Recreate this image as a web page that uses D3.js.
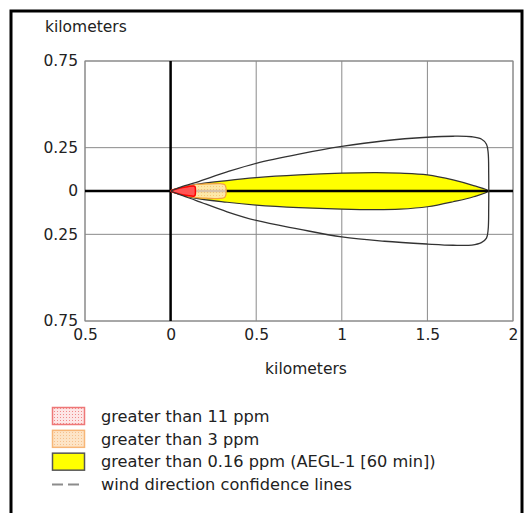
<!DOCTYPE html>
<html>
<head>
<meta charset="utf-8">
<script src="https://cdn.jsdelivr.net/npm/d3@7"></script>
<style>
  body { margin: 0; background: #fff; }
  text { font-family: "DejaVu Sans", Verdana, sans-serif; fill: #222; }
</style>
</head>
<body>
<div id="chart"></div>
<script>
// Tick values (km)
let xTicks = [-0.5, 0, 0.5, 1, 1.5, 2];
let yTicks = [0.75, 0.25, 0, -0.25, -0.75];

// Threat zones, [downwind km, crosswind km]
let zoneYellow = [
    [0, 0], [0.05, 0.015], [0.134, 0.035], [0.33, 0.06], [0.5, 0.077], [0.75, 0.093],
    [1.0, 0.103], [1.2, 0.106], [1.34, 0.103], [1.5, 0.093], [1.65, 0.064], [1.77, 0.031],
    [1.855, 0],
    [1.77, -0.033], [1.65, -0.062], [1.5, -0.091], [1.34, -0.105], [1.2, -0.108],
    [1.0, -0.105], [0.75, -0.096], [0.5, -0.081], [0.33, -0.065], [0.134, -0.04], [0.05, -0.017]
];
let zoneOrange = [
    [0, 0], [0.07, 0.022], [0.14, 0.036], [0.22, 0.041], [0.29, 0.042], [0.315, 0.038],
    [0.322, 0.025], [0.325, 0],
    [0.322, -0.025], [0.315, -0.038], [0.29, -0.043], [0.22, -0.042], [0.14, -0.037], [0.07, -0.023]
];
let zoneRed = [
    [0, 0], [0.05, 0.016], [0.1, 0.025], [0.135, 0.029], [0.143, 0.024], [0.145, 0],
    [0.143, -0.024], [0.135, -0.03], [0.1, -0.026], [0.05, -0.017]
];

// Wind direction confidence lines
let confidence = [
    [0, 0], [0.05, 0.02], [0.15, 0.05], [0.33, 0.11], [0.5, 0.16], [0.75, 0.213],
    [1.0, 0.257], [1.25, 0.29], [1.5, 0.31], [1.65, 0.316], [1.76, 0.313], [1.815, 0.3],
    [1.845, 0.27], [1.855, 0.22], [1.858, 0.1], [1.858, -0.1], [1.855, -0.22],
    [1.845, -0.272], [1.815, -0.298], [1.76, -0.312], [1.65, -0.313], [1.5, -0.306],
    [1.25, -0.29], [1.0, -0.265], [0.75, -0.22], [0.5, -0.17], [0.33, -0.12],
    [0.15, -0.055], [0.05, -0.02], [0, 0]
];

// Legend
let legendLabels = [
    'greater than 11 ppm',
    'greater than 3 ppm',
    'greater than 0.16 ppm (AEGL-1 [60 min])',
    'wind direction confidence lines'
];

let W = 525, H = 513;
let plot = { left: 85, right: 513, top: 61, bottom: 321 };

let x = d3.scaleLinear().domain([-0.5, 2]).range([plot.left, plot.right]);
let y = d3.scaleLinear().domain([-0.75, 0.75]).range([plot.bottom, plot.top]);

let svg = d3.select('#chart')
    .append('svg')
    .attr('width', W)
    .attr('height', H);

// Dotted fill patterns
let defs = svg.append('defs');
function dotPattern(id, bg, dot) {
    let p = defs.append('pattern')
        .attr('id', id)
        .attr('width', 3).attr('height', 3)
        .attr('patternUnits', 'userSpaceOnUse');
    p.append('rect').attr('width', 3).attr('height', 3).attr('fill', bg);
    p.append('rect').attr('width', 1).attr('height', 1).attr('fill', dot);
}
dotPattern('pat-red', '#fde6e6', '#f08a8a');
dotPattern('pat-orange', '#fde4c6', '#f6c08c');

svg.append('rect')
    .attr('width', W).attr('height', H)
    .attr('fill', '#fff');

// Outer frame
svg.append('rect')
    .attr('x', 11).attr('y', 11)
    .attr('width', 511).attr('height', 530)
    .attr('fill', 'none')
    .attr('stroke', '#000')
    .attr('stroke-width', 3);

// Grid
svg.append('g')
    .selectAll('line')
    .data(xTicks)
    .join('line')
    .attr('x1', d => x(d)).attr('x2', d => x(d))
    .attr('y1', plot.top).attr('y2', plot.bottom)
    .attr('stroke', '#8a8a8a').attr('stroke-width', 1);

svg.append('g')
    .selectAll('line')
    .data(yTicks)
    .join('line')
    .attr('x1', plot.left).attr('x2', plot.right)
    .attr('y1', d => y(d)).attr('y2', d => y(d))
    .attr('stroke', '#8a8a8a').attr('stroke-width', 1);

svg.append('rect')
    .attr('x', plot.left).attr('y', plot.top)
    .attr('width', plot.right - plot.left)
    .attr('height', plot.bottom - plot.top)
    .attr('fill', 'none')
    .attr('stroke', '#8a8a8a');

let zoneLine = d3.line()
    .x(d => x(d[0]))
    .y(d => y(d[1]))
    .curve(d3.curveCatmullRomClosed.alpha(0.5));

let openLine = d3.line()
    .x(d => x(d[0]))
    .y(d => y(d[1]))
    .curve(d3.curveCatmullRom.alpha(0.5));

// Yellow zone
svg.append('path')
    .datum(zoneYellow)
    .attr('d', zoneLine)
    .attr('fill', '#ffff00')
    .attr('stroke', '#333')
    .attr('stroke-width', 1.2);

// Zero axes
svg.append('line')
    .attr('x1', plot.left).attr('x2', plot.right)
    .attr('y1', y(0)).attr('y2', y(0))
    .attr('stroke', '#000').attr('stroke-width', 2.5);
svg.append('line')
    .attr('x1', x(0)).attr('x2', x(0))
    .attr('y1', plot.top).attr('y2', plot.bottom)
    .attr('stroke', '#000').attr('stroke-width', 2.5);

// Orange and red zones
svg.append('path')
    .datum(zoneOrange)
    .attr('d', zoneLine)
    .attr('fill', 'url(#pat-orange)')
    .attr('fill-opacity', 0.85)
    .attr('stroke', '#f4a040')
    .attr('stroke-width', 1.2);

svg.append('path')
    .datum(zoneRed)
    .attr('d', zoneLine)
    .attr('fill', '#f55')
    .attr('stroke', '#ff0000')
    .attr('stroke-width', 1.5);

// Confidence lines
svg.append('path')
    .datum(confidence)
    .attr('d', openLine)
    .attr('fill', 'none')
    .attr('stroke', '#333')
    .attr('stroke-width', 1.3);

// Axes labels
let fmt = d => String(Math.abs(d));

svg.append('g')
    .attr('transform', 'translate(0,' + plot.bottom + ')')
    .call(d3.axisBottom(x).tickValues(xTicks).tickFormat(fmt).tickSize(0).tickPadding(8))
    .call(g => g.select('.domain').remove())
    .selectAll('text')
    .attr('font-size', 15.5)
    .attr('font-family', '"DejaVu Sans", Verdana, sans-serif')
    .attr('fill', '#222');

svg.append('g')
    .attr('transform', 'translate(' + plot.left + ',0)')
    .call(d3.axisLeft(y).tickValues(yTicks).tickFormat(fmt).tickSize(0).tickPadding(7))
    .call(g => g.select('.domain').remove())
    .selectAll('text')
    .attr('font-size', 15.5)
    .attr('font-family', '"DejaVu Sans", Verdana, sans-serif')
    .attr('fill', '#222');

svg.append('text')
    .attr('x', 45).attr('y', 32)
    .attr('font-size', 15.5)
    .text('kilometers');

svg.append('text')
    .attr('x', 306).attr('y', 374)
    .attr('text-anchor', 'middle')
    .attr('font-size', 15.5)
    .text('kilometers');

// Legend
let legend = svg.append('g');
let rowY = d3.scaleLinear().domain([0, 3]).range([416, 484.5]);

let swatches = [
    { fill: 'url(#pat-red)', stroke: '#ee7777' },
    { fill: 'url(#pat-orange)', stroke: '#f7b677' },
    { fill: '#ffff00', stroke: '#555' }
];

legend.selectAll('rect')
    .data(swatches)
    .join('rect')
    .attr('x', 52.5)
    .attr('y', (d, i) => rowY(i) - 8.5)
    .attr('width', 32)
    .attr('height', 17)
    .attr('fill', d => d.fill)
    .attr('stroke', d => d.stroke)
    .attr('stroke-width', 1.5);

legend.append('line')
    .attr('x1', 52).attr('x2', 80)
    .attr('y1', rowY(3)).attr('y2', rowY(3))
    .attr('stroke', '#8c8c8c')
    .attr('stroke-width', 2)
    .attr('stroke-dasharray', '11,5');

legend.selectAll('text')
    .data(legendLabels)
    .join('text')
    .attr('x', 101)
    .attr('y', (d, i) => rowY(i))
    .attr('dy', '0.35em')
    .attr('font-size', 16.2)
    .text(d => d);
</script>
</body>
</html>
